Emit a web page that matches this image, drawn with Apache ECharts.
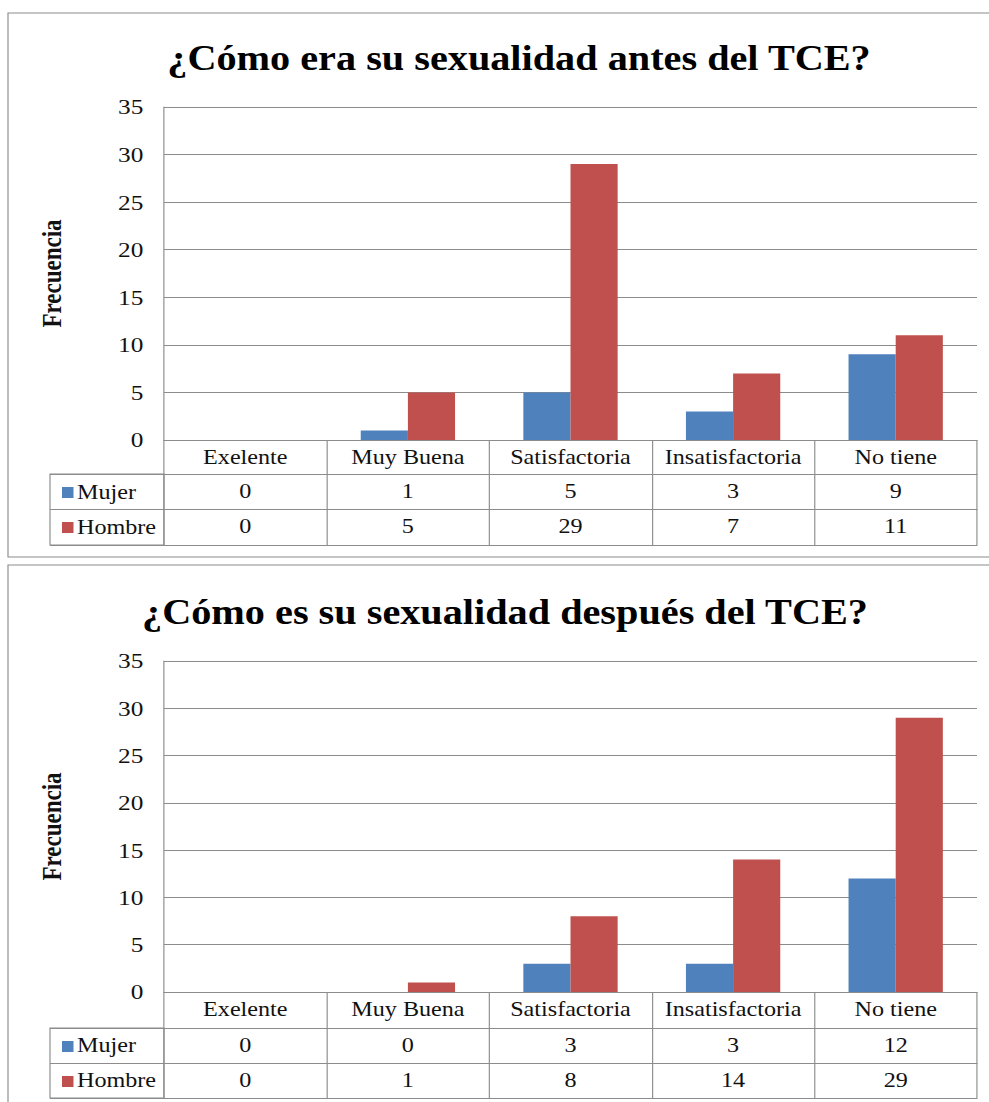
<!DOCTYPE html>
<html><head><meta charset="utf-8">
<script src="https://cdn.jsdelivr.net/npm/echarts@6/dist/echarts.min.js"></script>
<style>
html,body{margin:0;padding:0;background:#fff;overflow:hidden;}
#c{width:860px;height:1102px;transform:scaleX(1.15);transform-origin:0 0;}
</style></head><body><div id="c"></div>
<script>
// ---- data ----
const categories = ['Exelente', 'Muy Buena', 'Satisfactoria', 'Insatisfactoria', 'No tiene'];
const seriesNames = ['Mujer', 'Hombre'];
const antesMujer = [0, 1, 5, 3, 9];
const antesHombre = [0, 5, 29, 7, 11];
const despuesMujer = [0, 0, 3, 3, 12];
const despuesHombre = [0, 1, 8, 14, 29];
const titles = ['¿Cómo era su sexualidad antes del TCE?', '¿Cómo es su sexualidad después del TCE?'];
const yAxisName = 'Frecuencia';
const yMin = 0, yMax = 35, yStep = 5;

// ---- style / layout ----
const SX = 1.15;               // horizontal stretch of the reference
const X = v => v / SX;         // reference px -> container px
const GRAY = '#8c8c8c';
const FONT = 'Liberation Serif';
const TXT = '#111';
const colors = ['#4F81BD', '#C0504D'];
const plotLeft = 164, plotRight = 977, tableLeft = 50;
const panels = [
  { mujer: antesMujer, hombre: antesHombre, title: titles[0], frameTop: 13, frameBottom: 557,
    titleX: 519, titleTop: 40, plotTop: 107, plotBottom: 440, rows: [34, 69, 105] },
  { mujer: despuesMujer, hombre: despuesHombre, title: titles[1], frameTop: 565, frameBottom: 1130,
    titleX: 505, titleTop: 594, plotTop: 661, plotBottom: 992, rows: [36, 71, 106] }
];

const grid = [], xAxis = [], yAxis = [], series = [], graphic = [], legend = [];
panels.forEach((p, k) => {
  const gA = grid.length;
  grid.push({ left: X(plotLeft), width: X(plotRight - plotLeft), top: p.plotTop, height: p.plotBottom - p.plotTop });
  const gB = grid.length;
  grid.push({ left: X(tableLeft), width: X(plotLeft - tableLeft), top: p.plotBottom + p.rows[0],
    height: p.rows[2] - p.rows[0], show: true, borderColor: GRAY, borderWidth: 1, backgroundColor: 'transparent' });

  const lbl = { interval: 0, margin: 7, fontFamily: FONT, fontSize: 21, color: TXT };
  const xMain = xAxis.length;
  xAxis.push({ type: 'category', gridIndex: gA, data: categories, position: 'bottom',
    axisLine: { lineStyle: { color: GRAY, width: 1 } },
    axisTick: { show: true, interval: 0, length: p.rows[2], lineStyle: { color: GRAY } },
    axisLabel: lbl, splitLine: { show: false } });
  xAxis.push({ type: 'category', gridIndex: gA, data: p.mujer.map(String), position: 'bottom', offset: p.rows[0],
    axisLine: { lineStyle: { color: GRAY } }, axisTick: { show: false }, axisLabel: lbl });
  xAxis.push({ type: 'category', gridIndex: gA, data: p.hombre.map(String), position: 'bottom', offset: p.rows[1],
    axisLine: { lineStyle: { color: GRAY } }, axisTick: { show: false }, axisLabel: lbl });
  xAxis.push({ type: 'category', gridIndex: gA, data: categories, position: 'bottom', offset: p.rows[2],
    axisLine: { lineStyle: { color: GRAY } }, axisTick: { show: false }, axisLabel: { show: false } });
  xAxis.push({ type: 'category', gridIndex: gB, data: [''], show: false });

  const yMain = yAxis.length;
  yAxis.push({ type: 'value', gridIndex: gA, min: yMin, max: yMax, interval: yStep,
    axisLine: { show: true, lineStyle: { color: GRAY } }, axisTick: { show: false },
    splitLine: { show: true, lineStyle: { color: GRAY, width: 1 } },
    axisLabel: { margin: 18, fontFamily: FONT, fontSize: 22, color: TXT },
    name: yAxisName, nameLocation: 'middle', nameGap: 86, nameRotate: 90,
    nameTextStyle: { fontFamily: FONT, fontSize: 23, fontWeight: 'bold', color: TXT } });
  yAxis.push({ type: 'category', gridIndex: gB, data: seriesNames, inverse: true,
    axisLine: { show: false }, axisTick: { show: false },
    axisLabel: { inside: true, margin: X(77 - tableLeft), interval: 0, align: 'left',
      fontFamily: FONT, fontSize: 21, color: TXT },
    splitLine: { show: true, interval: 0, lineStyle: { color: GRAY } } });

  [p.mujer, p.hombre].forEach((d, i) => {
    series.push({ type: 'bar', name: seriesNames[i], xAxisIndex: xMain, yAxisIndex: yMain, data: d,
      barGap: '0%', barCategoryGap: '42%', itemStyle: { color: colors[i] } });
  });

  const rowH = p.rows[1] - p.rows[0];
  legend.push({ data: seriesNames, orient: 'vertical', left: X(62), top: p.plotBottom + p.rows[0] + (rowH - 11) / 2 + 1,
    padding: 0, itemGap: rowH - 11, icon: 'rect', itemWidth: 10, itemHeight: 11, selectedMode: false,
    textStyle: { fontSize: 1, color: 'rgba(0,0,0,0)' } });

  graphic.push({ type: 'rect', silent: true, shape: { x: X(8), y: p.frameTop, width: 2000, height: p.frameBottom - p.frameTop },
    style: { fill: 'none', stroke: GRAY, lineWidth: 1 } });
  graphic.push({ type: 'text', x: X(p.titleX), y: p.titleTop,
    style: { text: p.title, textAlign: 'center', textVerticalAlign: 'top',
      fontFamily: FONT, fontSize: 35, fontWeight: 'bold', fill: '#000' } });
});

const chart = echarts.init(document.getElementById('c'), null, { renderer: 'svg' });
chart.setOption({ animation: false, backgroundColor: '#fff', grid, xAxis, yAxis, series, graphic, legend });
</script></body></html>
